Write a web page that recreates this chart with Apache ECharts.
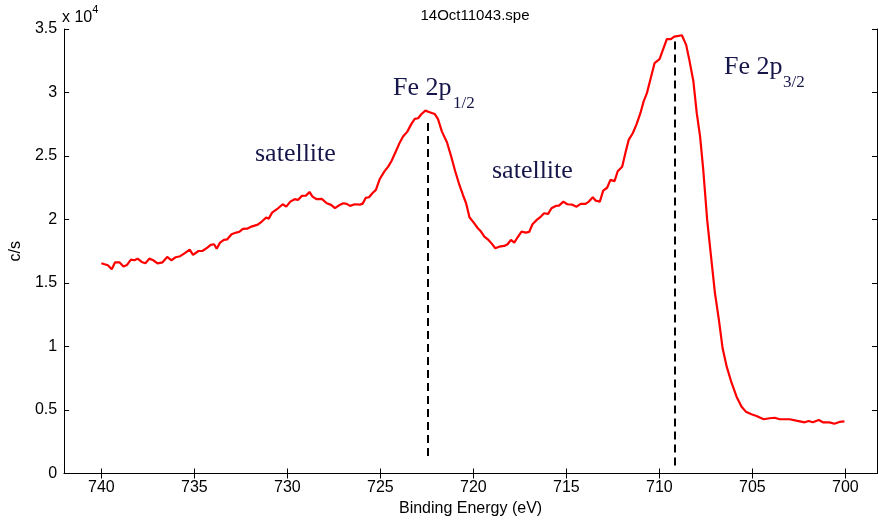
<!DOCTYPE html>
<html>
<head>
<meta charset="utf-8">
<script src="https://cdn.jsdelivr.net/npm/echarts@6/dist/echarts.min.js"></script>
<style>
  html, body { margin: 0; padding: 0; background: #fff; }
  #chart { width: 878px; height: 522px; }
</style>
</head>
<body>
<div id="chart"></div>
<script>
// binding energy (eV) and count rate (c/s)
var energy = [740.0, 739.65, 739.44, 739.26, 739.03, 738.81, 738.62, 738.41, 738.22, 738.05,
    737.83, 737.63, 737.42, 737.21, 736.98, 736.71, 736.46, 736.23, 736.0, 735.76,
    735.49, 735.25, 735.07, 734.78, 734.57, 734.30, 734.12, 733.94, 733.80, 733.62,
    733.41, 733.23, 733.0, 732.75, 732.57, 732.39, 732.16, 731.93, 731.59, 731.36,
    731.14, 731.0, 730.82, 730.56, 730.25, 730.06, 729.84, 729.61, 729.43, 729.22,
    729.0, 728.81, 728.65, 728.42, 728.15, 727.88, 727.65, 727.44, 727.22, 726.99,
    726.81, 726.63, 726.37, 726.10, 725.95, 725.79, 725.61, 725.43, 725.24, 725.03,
    724.79, 724.58, 724.40, 724.17, 723.96, 723.78, 723.55, 723.33, 723.15, 722.97,
    722.80, 722.58, 722.35, 722.08, 721.90, 721.69, 721.42, 721.19, 720.98, 720.75,
    720.56, 720.39, 720.21, 719.98, 719.76, 719.59, 719.41, 719.19, 719.0, 718.82,
    718.61, 718.34, 718.16, 717.98, 717.80, 717.62, 717.41, 717.18, 717.0, 716.82,
    716.59, 716.37, 716.20, 715.98, 715.80, 715.57, 715.40, 715.16, 714.95, 714.68,
    714.45, 714.23, 713.97, 713.79, 713.58, 713.43, 713.20, 713.02, 712.81, 712.63,
    712.41, 712.24, 712.0, 711.83, 711.65, 711.43, 711.24, 711.02, 710.85, 710.67,
    710.49, 710.26, 709.99, 709.81, 709.60, 709.38, 709.20, 708.97, 708.79, 708.56,
    708.39, 708.17, 707.99, 707.81, 707.64, 707.43, 707.24, 707.01, 706.80, 706.60,
    706.38, 706.12, 705.85, 705.58, 705.35, 705.05, 704.78, 704.39, 704.07, 703.80,
    703.53, 703.0, 702.64, 702.19, 701.98, 701.75, 701.43, 701.21, 700.86, 700.59,
    700.32, 700.05];
var counts = [16550, 16400, 16080, 16630, 16630, 16290, 16420, 16840, 16790, 16920,
    16660, 16550, 16920, 16790, 16550, 16630, 17050, 16790, 17030, 17110,
    17370, 17630, 17210, 17520, 17520, 17780, 18000, 18050, 17700, 18180,
    18390, 18440, 18840, 18970, 19040, 19260, 19280, 19440, 19600, 19860,
    20150, 20070, 20540, 20810, 21200, 21010, 21410, 21600, 21540, 21860,
    21880, 22170, 21800, 21600, 21620, 21280, 21150, 20890, 21120, 21280,
    21230, 21070, 21200, 21170, 21250, 21700, 21750, 22070, 22330, 23190,
    23770, 24160, 24610, 25350, 26050, 26530, 26920, 27530, 27920, 27970,
    28290, 28570, 28450, 28310, 27900, 26920, 26080, 24950, 23820, 22720,
    21930, 21280, 20180, 19750, 19310, 19050, 18650, 18390, 18080, 17740,
    17860, 17920, 18050, 18390, 18180, 18600, 19040, 18970, 19020, 19630,
    19970, 20230, 20490, 20440, 20890, 21070, 21090, 21410, 21200, 21170,
    21010, 21230, 21230, 21410, 21750, 21490, 21410, 22270, 22500, 23120,
    23020, 23800, 24160, 25220, 26270, 26790, 27450, 28370, 29280, 29950,
    30990, 32310, 32620, 33350, 34200, 34200, 34400, 34460, 34510, 33750,
    32570, 30860, 28370, 26530, 23900, 19970, 17340, 14190, 12090, 9860,
    8410, 7150, 6050, 5260, 4870, 4660, 4530, 4270, 4350, 4390,
    4270, 4270, 4160, 4030, 4130, 4030, 4210, 4030, 4030, 3920,
    4060, 4110];
var xTicks = [700, 705, 710, 715, 720, 725, 730, 735, 740];
// peak markers: position and vertical extent of the dashed lines
var peakEnergy = [722.45, 709.18];
var peakTop = [27600, 34010];
var peakBottom = [1060, 590];

var chart = echarts.init(document.getElementById('chart'));

var seriesData = [];
for (var i = 0; i < energy.length; i++) {
    seriesData.push([energy[i], counts[i]]);
}
var peakLines = [];
for (var j = 0; j < peakEnergy.length; j++) {
    peakLines.push([{coord: [peakEnergy[j], peakTop[j]]}, {coord: [peakEnergy[j], peakBottom[j]]}]);
}

var sans = 'Liberation Sans, Arial, sans-serif';
var serif = 'Liberation Serif, Times New Roman, serif';
var ink = '#16164a';

var axisLine = {lineStyle: {color: '#000', width: 1}};

var option = {
    animation: false,
    backgroundColor: '#fff',
    title: {
        text: '14Oct11043.spe',
        left: 470, top: 3, textAlign: 'center',
        textStyle: {fontFamily: sans, fontSize: 15, fontWeight: 'normal', color: '#000'}
    },
    grid: {left: 62, top: 29, right: 1, bottom: 48.5},
    xAxis: [
        {
            type: 'value', position: 'bottom', inverse: true,
            min: 698.3, max: 742,
            name: 'Binding Energy (eV)', nameLocation: 'middle', nameGap: 26,
            nameTextStyle: {fontFamily: sans, fontSize: 16, color: '#000'},
            axisLine: axisLine,
            splitLine: {show: false},
            axisTick: {inside: true, length: 5, lineStyle: {color: '#000'}, customValues: xTicks},
            axisLabel: {customValues: xTicks, fontFamily: sans, fontSize: 16, color: '#000', margin: 6}
        },
        {
            type: 'value', position: 'top', inverse: true,
            min: 698.3, max: 742,
            axisLine: axisLine,
            splitLine: {show: false},
            axisTick: {inside: true, length: 5, lineStyle: {color: '#000'}, customValues: xTicks},
            axisLabel: {show: false}
        }
    ],
    yAxis: [
        {
            type: 'value', position: 'left',
            min: 0, max: 35000, interval: 5000,
            name: 'c/s', nameLocation: 'middle', nameGap: 40,
            nameTextStyle: {fontFamily: sans, fontSize: 16, color: '#000'},
            axisLine: axisLine,
            splitLine: {show: false},
            axisTick: {inside: true, length: 5, lineStyle: {color: '#000'}},
            axisLabel: {
                fontFamily: sans, fontSize: 16, color: '#000', margin: 7,
                formatter: function (v) { return String(v / 10000); }
            }
        },
        {
            type: 'value', position: 'right',
            min: 0, max: 35000, interval: 5000,
            axisLine: axisLine,
            splitLine: {show: false},
            axisTick: {inside: true, length: 5, lineStyle: {color: '#000'}},
            axisLabel: {show: false}
        }
    ],
    graphic: [
        {type: 'text', left: 62, top: 4, style: {
            text: '{b|x 10}{s|4}', fontFamily: sans, fill: '#000',
            rich: {b: {fontSize: 16, fontFamily: sans, padding: [6, 0, 0, 0]}, s: {fontSize: 11, fontFamily: sans, verticalAlign: 'top'}}
        }},
        {type: 'text', x: 393, y: 88, style: {text: 'Fe 2p', fontFamily: serif, fontSize: 26, fill: ink, verticalAlign: 'middle'}},
        {type: 'text', x: 453, y: 104, style: {text: '1/2', fontFamily: serif, fontSize: 17, fill: ink, verticalAlign: 'middle'}},
        {type: 'text', x: 724, y: 67, style: {text: 'Fe 2p', fontFamily: serif, fontSize: 26, fill: ink, verticalAlign: 'middle'}},
        {type: 'text', x: 783, y: 83, style: {text: '3/2', fontFamily: serif, fontSize: 17, fill: ink, verticalAlign: 'middle'}},
        {type: 'text', x: 255, y: 154, style: {text: 'satellite', fontFamily: serif, fontSize: 26, fill: ink, verticalAlign: 'middle'}},
        {type: 'text', x: 492, y: 171, style: {text: 'satellite', fontFamily: serif, fontSize: 26, fill: ink, verticalAlign: 'middle'}}
    ],
    series: [
        {
            type: 'line',
            data: seriesData,
            showSymbol: false,
            lineStyle: {color: '#ff0000', width: 2.2},
            markLine: {
                silent: true,
                symbol: 'none',
                label: {show: false},
                lineStyle: {color: '#000', width: 2, type: [8, 5]},
                data: peakLines
            }
        }
    ]
};
chart.setOption(option);
</script>
</body>
</html>
